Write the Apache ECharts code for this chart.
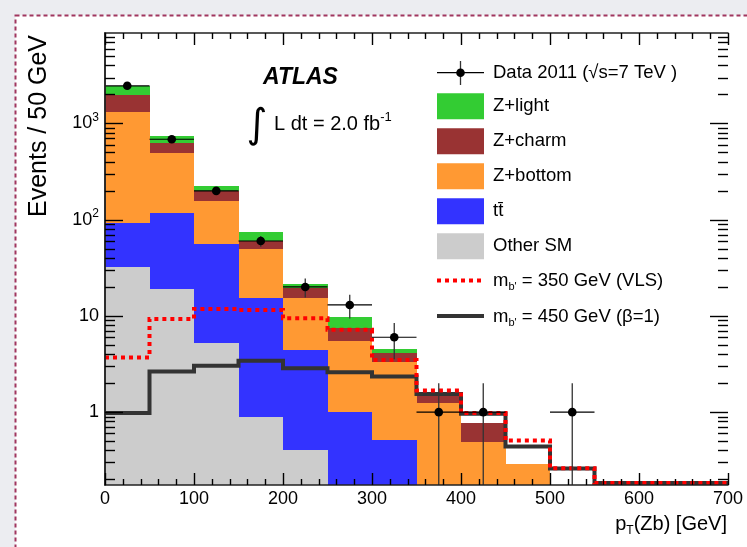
<!DOCTYPE html>
<html><head><meta charset="utf-8">
<script src="https://cdn.jsdelivr.net/npm/echarts@6/dist/echarts.min.js"></script>
<style>html,body{margin:0;padding:0;background:#ecedf1}#c{width:747px;height:547px}</style>
</head><body><div id="c"></div>
<script>
// ---- data ----
const binEdges = [0, 50, 100, 150, 200, 250, 300, 350, 400, 450, 500, 550, 600, 650, 700];
const otherSM  = [32.5, 18.9, 5.25, 0.88, 0.407, 0.08, 0.04, 0.01, 0.01, 0, 0, 0, 0, 0];
const ttbar    = [60.5, 98, 50.7, 14.6, 4.02, 0.93, 0.47, 0.09, 0.05, 0.02, 0, 0, 0, 0];
const zBottom  = [1211, 380, 100, 33.8, 11.07, 4.49, 2.79, 1.14, 0.435, 0.27, 0.05, 0, 0, 0];
const zCharm   = [668, 133, 44, 10.7, 3.9, 1.95, 0.8, 0.25, 0.275, 0, 0, 0, 0, 0];
const zLight   = [473, 110, 22, 14, 2.1, 2.39, 0.48, 0.06, 0, 0, 0, 0, 0, 0];
const dataCounts = [2460, 685, 199, 60, 20, 13, 6, 1, 1, 0, 1, 0, 0, 0];
const dataErrLow  = [50, 26, 14, 7.7, 4.5, 3.6, 2.45, 1, 1, 0, 1, 0, 0, 0];
const dataErrHigh = [50, 26, 14, 7.7, 4.5, 3.6, 2.45, 1, 1, 0, 1, 0, 0, 0];
const vls350  = [3.69, 9.3, 11.8, 11.5, 9.47, 7.16, 3.49, 1.68, 0.98, 0.507, 0.262, 0, 0, 0];
const beta450 = [0.98, 2.64, 3.03, 3.41, 2.86, 2.6, 2.34, 1.54, 0.965, 0.44, 0.26, 0, 0, 0];
const xTicks = [0, 100, 200, 300, 400, 500, 600, 700];
const xMinorStep = 20;
const yMajorTicks = [1, 10, 100, 1000];
const yMinorMult = [2, 3, 4, 5, 6, 7, 8, 9];
const yDecades = [0.1, 1, 10, 100, 1000];
const Y_MIN = 0.175, Y_MAX = 8700;

const FONT = 'Liberation Sans, Arial, Helvetica, sans-serif';
const GRID = { left: 105, top: 33, right: 19, bottom: 62 };
const chart = echarts.init(document.getElementById('c'));

const stackDefs = [
  { name: 'Other SM', values: otherSM, color: '#cccccc' },
  { name: 'tt\u0304', values: ttbar, color: '#3333ff' },
  { name: 'Z+bottom', values: zBottom, color: '#ff9933' },
  { name: 'Z+charm', values: zCharm, color: '#993333' },
  { name: 'Z+light', values: zLight, color: '#33cc33' }
];

const cum = binEdges.slice(0, -1).map(() => 0);
const stackSeries = stackDefs.map(def => {
  const data = def.values.map((v, i) => {
    const lo = cum[i];
    cum[i] += v;
    return [binEdges[i], binEdges[i + 1], lo, cum[i]];
  });
  return {
    type: 'custom', name: def.name, z: 2,
    encode: { x: [0, 1], y: [2, 3] },
    data: data,
    renderItem: function (params, api) {
      const x0 = api.value(0), x1 = api.value(1);
      let lo = api.value(2), hi = api.value(3);
      if (!(hi > Y_MIN) || hi <= lo) return null;
      lo = Math.max(lo, Y_MIN); hi = Math.min(hi, Y_MAX);
      const a = api.coord([x0, lo]), b = api.coord([x1, hi]);
      const xa = Math.round(a[0]), xb = Math.round(b[0]), ya = Math.round(a[1]), yb = Math.round(b[1]);
      return { type: 'rect', shape: { x: xa, y: yb, width: xb - xa, height: ya - yb },
        style: { fill: def.color } };
    }
  };
});

function stepSeries(name, values, color, dash, z) {
  return {
    type: 'custom', name: name, z: z,
    encode: { x: 0, y: 1 },
    data: [[binEdges[0], values[0] > 0 ? values[0] : 1]],
    renderItem: function (params, api) {
      const bottomY = api.coord([binEdges[1], Y_MIN])[1] - 2;
      const pts = [];
      for (let i = 0; i < values.length; i++) {
        const v = values[i] > Y_MIN ? values[i] : Y_MIN;
        const pl = api.coord([binEdges[i], v]), pr = api.coord([binEdges[i + 1], v]);
        const y = Math.min(pl[1], bottomY);
        pts.push([pl[0], y]); pts.push([pr[0], y]);
      }
      return { type: 'polyline', shape: { points: pts },
        style: { stroke: color, lineWidth: 4, lineDash: dash, lineCap: 'butt', fill: null } };
    }
  };
}

const dataSeries = {
  type: 'custom', name: 'Data 2011', z: 5,
  encode: { x: 0, y: 1 },
  data: dataCounts.map((n, i) => [(binEdges[i] + binEdges[i + 1]) / 2, n, dataErrLow[i], dataErrHigh[i], binEdges[i], binEdges[i + 1]]),
  renderItem: function (params, api) {
    const xc = api.value(0), n = api.value(1), el = api.value(2), eh = api.value(3), xl = api.value(4), xr = api.value(5);
    if (!(n > 0)) return null;
    const c = api.coord([xc, n]), l = api.coord([xl, n]), r = api.coord([xr, n]);
    const lo = api.coord([xc, Math.max(n - el, Y_MIN)]), hi = api.coord([xc, Math.min(n + eh, Y_MAX)]);
    return { type: 'group', children: [
      { type: 'line', shape: { x1: l[0], y1: l[1], x2: r[0], y2: r[1] }, style: { stroke: '#000', lineWidth: 1.2 } },
      { type: 'line', shape: { x1: c[0], y1: lo[1], x2: c[0], y2: hi[1] }, style: { stroke: '#333', lineWidth: 1.3 } },
      { type: 'circle', shape: { cx: c[0], cy: c[1], r: 4.3 }, style: { fill: '#000' } }
    ] };
  }
};

// frame ticks drawn as a custom series: each tick is an item placed by the axes' own scales
const tickItems = [];
for (let v = xTicks[0]; v <= xTicks[xTicks.length - 1]; v += xMinorStep) {
  const len = (v % 100 === 0) ? 12 : 6;
  tickItems.push([v, Y_MIN, 0, len]);   // bottom, pointing up
  tickItems.push([v, Y_MAX, 1, len]);   // top, pointing down
}
yMajorTicks.forEach(v => { tickItems.push([xTicks[0], v, 2, 18]); tickItems.push([xTicks[xTicks.length - 1], v, 3, 18]); });
yDecades.forEach(d => yMinorMult.forEach(m => {
  const v = d * m;
  if (v > Y_MIN && v < Y_MAX) { tickItems.push([xTicks[0], v, 2, 10]); tickItems.push([xTicks[xTicks.length - 1], v, 3, 10]); }
}));
const tickSeries = {
  type: 'custom', name: 'frame ticks', z: 20, zlevel: 1, silent: true, clip: false,
  encode: { x: 0, y: 1 },
  data: tickItems,
  renderItem: function (params, api) {
    const p = api.coord([api.value(0), api.value(1)]);
    const side = api.value(2), len = api.value(3);
    const x = Math.round(p[0]) + 0.5, y = Math.round(p[1]) + 0.5;
    let shape;
    if (side === 0) shape = { x1: x, y1: p[1], x2: x, y2: p[1] - len };
    else if (side === 1) shape = { x1: x, y1: p[1], x2: x, y2: p[1] + len };
    else if (side === 2) shape = { x1: p[0], y1: y, x2: p[0] + len, y2: y };
    else shape = { x1: p[0] - len, y1: y, x2: p[0], y2: y };
    return { type: 'line', shape: shape, style: { stroke: '#000', lineWidth: 1.4 } };
  }
};

const axisLineStyle = { color: '#222', width: 1.5 };
function xAxisDef(pos, showLabel) {
  return {
    type: 'value', position: pos, min: xTicks[0], max: xTicks[xTicks.length - 1], interval: 100, z: 9,
    axisLine: { show: true, onZero: false, lineStyle: axisLineStyle },
    axisTick: { show: false }, minorTick: { show: false },
    splitLine: { show: false }, minorSplitLine: { show: false },
    axisLabel: { show: showLabel, fontSize: 18, color: '#000', fontFamily: FONT, margin: 5 }
  };
}
function yAxisDef(pos, showLabel) {
  return {
    type: 'log', logBase: 10, position: pos, min: Y_MIN, max: Y_MAX, z: 9,
    axisLine: { show: true, lineStyle: axisLineStyle },
    axisTick: { show: false },
    splitLine: { show: false },
    axisLabel: {
      show: showLabel, showMinLabel: false, showMaxLabel: false, margin: 6,
      fontSize: 18, color: '#000', fontFamily: FONT,
      formatter: function (v) {
        const lg = Math.log10(v), e = Math.round(lg);
        if (Math.abs(lg - e) > 1e-6) return '';
        if (e === 0) return '1';
        if (e === 1) return '10';
        return '10{sup|' + e + '}';
      },
      rich: { sup: { fontSize: 12, fontFamily: FONT, color: '#000', padding: [0, 0, 12, 0] } }
    }
  };
}

const LX = 437, LT = 493;
const LFONT = '18.5px ' + FONT;
function legendBox(y, color, text) {
  return [
    { type: 'rect', z: 100, shape: { x: LX, y: y - 13, width: 47, height: 26 }, style: { fill: color } },
    { type: 'text', z: 100, x: LT, y: y, style: { text: text, font: LFONT, fill: '#000', verticalAlign: 'middle' } }
  ];
}
const rich = {
  n: { fontSize: 18.5, fontFamily: FONT, color: '#000' },
  sub: { fontSize: 11, fontFamily: FONT, color: '#000', padding: [12, 0, 0, 0] },
  sup: { fontSize: 12, fontFamily: FONT, color: '#000', padding: [0, 0, 12, 0] }
};
const richBig = {
  n: { fontSize: 20, fontFamily: FONT, color: '#000' },
  sub: { fontSize: 12, fontFamily: FONT, color: '#000', padding: [13, 0, 0, 0] },
  sup: { fontSize: 13, fontFamily: FONT, color: '#000', padding: [0, 0, 13, 0] }
};

const decor = [
  { type: 'rect', z: -100, shape: { x: 15.5, y: 15.5, width: 760, height: 560 },
    style: { fill: '#ffffff', stroke: '#a0365f', lineWidth: 2, lineDash: [4, 3] } },
  { type: 'line', z: 100, shape: { x1: LX, y1: 72.7, x2: LX + 47, y2: 72.7 }, style: { stroke: '#000', lineWidth: 1.2 } },
  { type: 'line', z: 100, shape: { x1: 460.5, y1: 61, x2: 460.5, y2: 85 }, style: { stroke: '#333', lineWidth: 1.3 } },
  { type: 'circle', z: 100, shape: { cx: 460.5, cy: 72.7, r: 4.3 }, style: { fill: '#000' } },
  { type: 'text', z: 100, x: LT, y: 72.7, style: { text: 'Data 2011 (\u221As=7 TeV )', font: LFONT, fill: '#000', verticalAlign: 'middle' } },
  ...legendBox(106.3, '#33cc33', 'Z+light'),
  ...legendBox(141.3, '#993333', 'Z+charm'),
  ...legendBox(176.3, '#ff9933', 'Z+bottom'),
  ...legendBox(211.3, '#3333ff', 'tt\u0304'),
  ...legendBox(246.3, '#cccccc', 'Other SM'),
  { type: 'line', z: 100, shape: { x1: LX, y1: 280.5, x2: LX + 47, y2: 280.5 }, style: { stroke: '#ff0000', lineWidth: 4, lineDash: [4, 4] } },
  { type: 'text', z: 100, x: LT, y: 281, style: { text: "{n|m}{sub|b'}{n| = 350 GeV (VLS)}", rich: rich, verticalAlign: 'middle' } },
  { type: 'line', z: 100, shape: { x1: LX, y1: 316, x2: LX + 47, y2: 316 }, style: { stroke: '#333333', lineWidth: 4 } },
  { type: 'text', z: 100, x: LT, y: 316.5, style: { text: "{n|m}{sub|b'}{n| = 450 GeV (\u03B2=1)}", rich: rich, verticalAlign: 'middle' } },
  { type: 'text', z: 100, x: 263, y: 78, style: { text: 'ATLAS', font: 'italic bold 23px ' + FONT, fill: '#000', verticalAlign: 'middle' } },
  { type: 'text', z: 100, x: 257, y: 127, style: { text: '\u222B', font: '40px DejaVu Sans', fill: '#000', verticalAlign: 'middle', align: 'center' } },
  { type: 'text', z: 100, x: 274, y: 124, style: { text: '{n|L dt = 2.0 fb}{sup|-1}', rich: richBig, verticalAlign: 'middle' } },
  { type: 'text', z: 100, x: 39, y: 126, rotation: Math.PI / 2,
    style: { text: 'Events / 50 GeV', font: '25px ' + FONT, fill: '#000', align: 'center', verticalAlign: 'middle' } },
  { type: 'text', z: 100, x: 727, y: 524, style: { text: '{n|p}{sub|T}{n|(Zb) [GeV]}', rich: richBig, align: 'right', verticalAlign: 'middle' } }
];

chart.setOption({
  backgroundColor: '#ecedf1',
  animation: false,
  grid: { left: GRID.left, top: GRID.top, right: GRID.right, bottom: GRID.bottom, containLabel: false },
  xAxis: [xAxisDef('bottom', true), xAxisDef('top', false)],
  yAxis: [yAxisDef('left', true), yAxisDef('right', false)],
  graphic: { elements: decor },
  series: [
    ...stackSeries,
    stepSeries('m_b\' = 450 GeV (\u03B2=1)', beta450, '#333333', null, 3),
    stepSeries('m_b\' = 350 GeV (VLS)', vls350, '#ff0000', [4, 4], 4),
    dataSeries,
    tickSeries
  ]
});
</script></body></html>
